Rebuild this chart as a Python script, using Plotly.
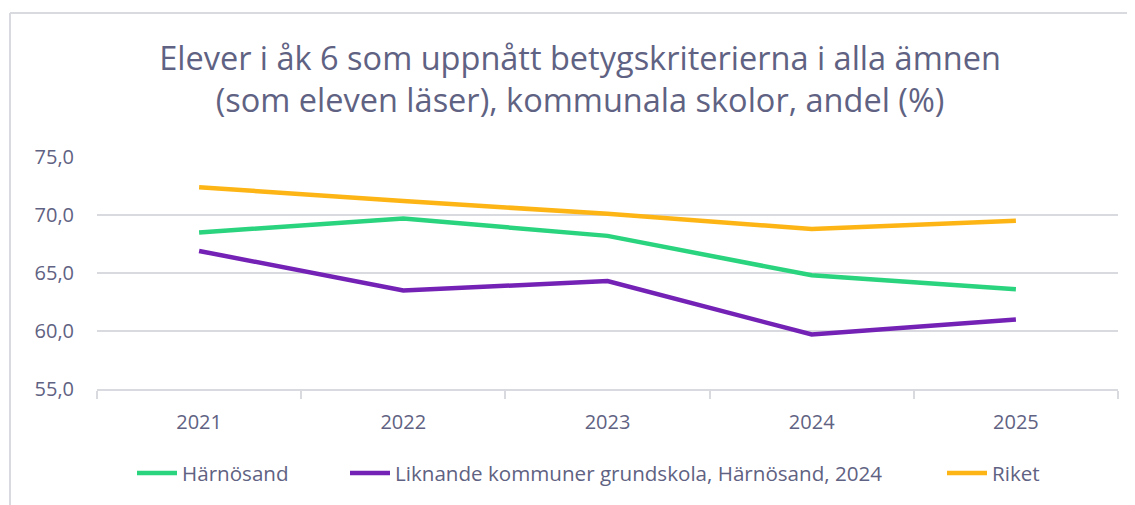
import plotly.graph_objects as go

years = ["2021", "2022", "2023", "2024", "2025"]
harnosand = [68.5, 69.7, 68.2, 64.8, 63.6]
liknande = [66.9, 63.5, 64.3, 59.7, 61.0]
riket = [72.4, 71.2, 70.1, 68.8, 69.5]

names = ["Härnösand", "Liknande kommuner grundskola, Härnösand, 2024", "Riket"]
colors = ["#2AD37E", "#7322B5", "#FDB515"]
series = [harnosand, liknande, riket]
legends = ["legend2", "legend3", "legend4"]

# page body has an 8px margin: reference pixel p -> figure pixel p - 8
O = 8
W, H = 1135 - O, 505 - O
L, R, T, B = 97 - O, W - (1118 - O), 157 - O, H - (389 - O)
pw, ph = W - L - R, H - T - B
txt = "#5F6282"
grid = "#D9D9E0"
font = "Open Sans"

fig = go.Figure()
for n, c, s, lg in zip(names, colors, series, legends):
    fig.add_trace(go.Scatter(x=years, y=s, name=n, mode="lines",
                             line=dict(color=c, width=4.5), legend=lg))


def px_x(p):
    return (p - O - L) / pw


def px_y(p):
    return (H - B - (p - O)) / ph


leg_common = dict(orientation="h", xanchor="left", yanchor="middle",
                  xref="paper", yref="paper",
                  font=dict(family=font, size=20.6, color=txt),
                  bgcolor="rgba(0,0,0,0)", itemwidth=40)
fig.update_layout(
    width=W, height=H,
    margin=dict(l=L, r=R, t=T, b=B),
    paper_bgcolor="white", plot_bgcolor="white",
    separators=", ",
    showlegend=True,
    title=dict(text="Elever i åk 6 som uppnått betygskriterierna i alla ämnen<br>(som eleven läser), kommunala skolor, andel (%)",
               x=px_x(580), xref="paper", xanchor="center",
               y=1 - (70 - O) / H, yanchor="middle",
               font=dict(family=font, size=32.5, color=txt)),
    legend2=dict(**leg_common, x=px_x(132), y=px_y(473)),
    legend3=dict(**leg_common, x=px_x(345), y=px_y(473)),
    legend4=dict(**leg_common, x=px_x(942), y=px_y(473)),
    xaxis=dict(type="category", range=[-0.5, 4.5], tickson="boundaries",
               ticks="outside", ticklen=8, tickcolor=grid, tickwidth=2,
               showline=True, linecolor=grid, linewidth=2, showgrid=False,
               ticklabelstandoff=14,
               tickfont=dict(family=font, size=20, color=txt)),
    yaxis=dict(range=[55, 75], dtick=5, tickformat=".1f", showgrid=True,
               gridcolor=grid, gridwidth=2, zeroline=False, showline=False,
               ticks="outside", ticklen=18, tickcolor="rgba(0,0,0,0)",
               tickfont=dict(family=font, size=20, color=txt)),
    shapes=[dict(type="line", xref="paper", yref="paper",
                 x0=px_x(10), x1=px_x(10), y0=px_y(13), y1=px_y(520),
                 line=dict(color=grid, width=2)),
            dict(type="line", xref="paper", yref="paper",
                 x0=px_x(10), x1=px_x(1150), y0=px_y(13), y1=px_y(13),
                 line=dict(color=grid, width=2))],
)
fig.write_html("out.html")
